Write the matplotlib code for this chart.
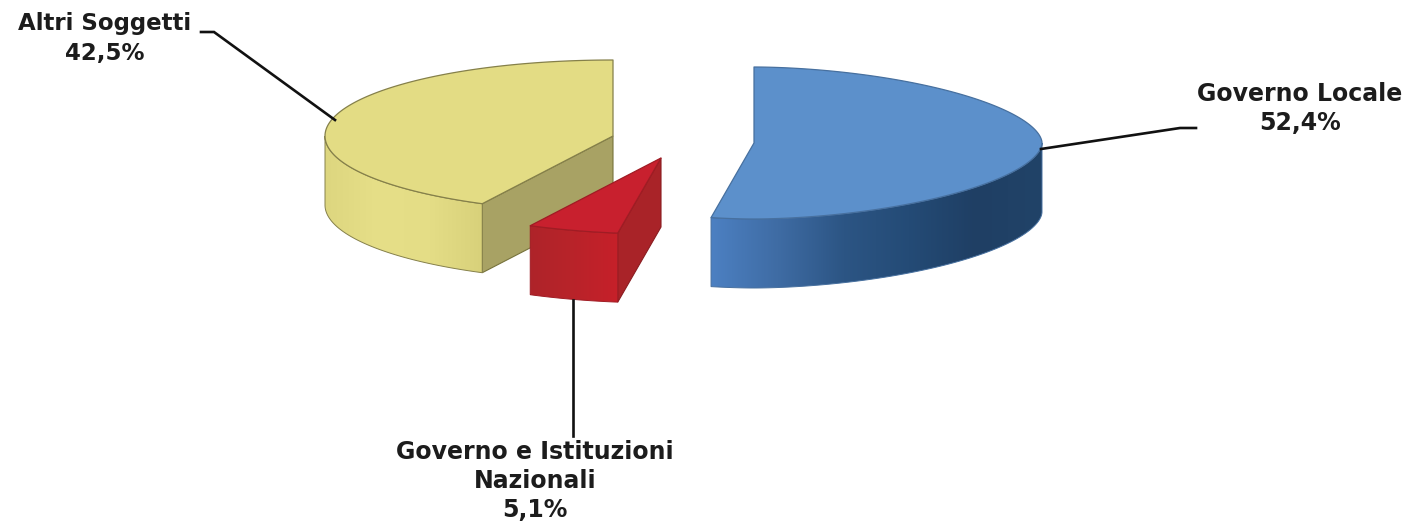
import numpy as np
import matplotlib
matplotlib.use("Agg")
import matplotlib.pyplot as plt
from matplotlib.colors import LinearSegmentedColormap
from matplotlib.patches import Polygon

labels = ["Governo Locale", "Governo e Istituzioni\nNazionali", "Altri Soggetti"]
shares = [52.4, 5.1, 42.5]
share_text = ["52,4%", "5,1%", "42,5%"]

centres = [(754, 143), (661, 158), (613, 136)]
shape_p = [1.8, 2.0, 2.0]
top_colors = ["#5c90cb", "#c8202e", "#e3dc84"]
top_edges = ["#47709f", "#a01c24", "#85804a"]
wall_stops = [["#4c80c2", "#3f6ca4", "#2c5584", "#244b76", "#1f3f64", "#214368"],
              ["#c62029", "#b9232a", "#ae2429"],
              ["#d8d17a", "#e4dd86", "#e6df88", "#ddd67f"]]
inner_colors = ["#3d6fa8", "#a92328", "#a8a264"]
inner_edges = [None, "#8a1c20", "#77733c"]

RX, RY, DEPTH = 288, 76, 69
W, H = 1412, 524

fig = plt.figure(figsize=(W / 100, H / 100), dpi=100)
ax = fig.add_axes([0, 0, 1, 1])
ax.set_xlim(0, W)
ax.set_ylim(H, 0)
ax.axis("off")

fractions = np.cumsum([0] + shares) / 100 * 2 * np.pi


def arc(i, a0, a1, n=240):
    c = centres[i]
    p = shape_p[i]
    t = np.linspace(a0, a1, n)
    s, k = np.sin(t), np.cos(t)
    r = (np.abs(s) ** p + np.abs(k) ** p) ** (-1 / p)
    return np.column_stack([c[0] + RX * r * s, c[1] - RY * r * k])


def draw_slice(i):
    a0, a1 = fractions[i], fractions[i + 1]
    c = np.array(centres[i], float)
    rim = arc(i, a0, a1)
    down = np.array([0, DEPTH])
    pts0 = rim[0]

    # cut face turned towards the viewer (the blue slice hides its own)
    if i != 0:
        side = np.array([c, pts0, pts0 + down, c + down])
        ax.add_patch(Polygon(side, closed=True, fc=inner_colors[i],
                             ec=inner_edges[i], lw=0.8, zorder=2))

    # outer wall: only the front half of the rim shows
    t_lo = max(a0, np.pi / 2)
    t_hi = min(a1, 3 * np.pi / 2)
    front = arc(i, t_lo, t_hi)
    wall = np.vstack([front, (front + down)[::-1]])
    cmap = LinearSegmentedColormap.from_list("w", wall_stops[i])
    g = np.linspace(0, 1, 256).reshape(1, -1)
    if i != 0:
        g = g[:, ::-1]
    x0, x1 = wall[:, 0].min(), wall[:, 0].max()
    y0, y1 = wall[:, 1].min(), wall[:, 1].max()
    im = ax.imshow(g, cmap=cmap, extent=[x0, x1, y1, y0], aspect="auto", zorder=3)
    poly = Polygon(wall, closed=True, transform=ax.transData, fc="none",
                   ec=top_edges[i], lw=0.7, zorder=3.1)
    ax.add_patch(poly)
    im.set_clip_path(poly)

    # top face
    top = np.vstack([c, rim])
    ax.add_patch(Polygon(top, closed=True, fc=top_colors[i], ec=top_edges[i],
                         lw=0.9, joinstyle="round", zorder=4))


for i in (2, 1, 0):
    draw_slice(i)
ax.set_xlim(0, W)
ax.set_ylim(H, 0)

leaders = [
    ([1041, 1180, 1196], [149, 128, 128]),
    ([573, 573], [300, 436]),
    ([335, 214, 201], [120, 32, 32]),
]
for xs, ys in leaders:
    ax.plot(xs, ys, color="#111111", lw=1.9, solid_joinstyle="miter", zorder=5)

text_pos = [(1300, 108.5), (535, 481), (105, 38.5)]
sizes = [17.0, 17.0, 16.5]
spacings = [1.27, 1.28, 1.36]
for lab, pct, (x, y), fs, ls in zip(labels, share_text, text_pos, sizes, spacings):
    ax.text(x, y, f"{lab}\n{pct}", ha="center", va="center", fontsize=fs,
            fontweight="bold", family="DejaVu Sans", color="#1c1c1c",
            linespacing=ls, zorder=6)

fig.savefig("out.png", dpi=100, facecolor="white")
